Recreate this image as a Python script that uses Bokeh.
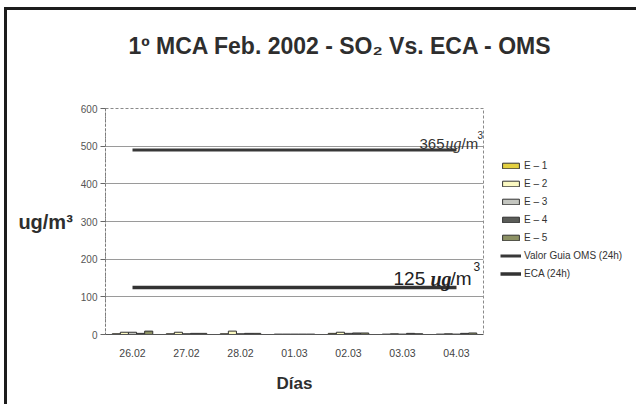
from bokeh.plotting import figure
from bokeh.models import (ColumnDataSource, FactorRange, Range1d, Label, Legend, LegendItem,
                          FixedTicker, Title)
from bokeh.transform import dodge
from bokeh.embed import file_html
from bokeh.resources import INLINE

# ---- data ----
days = ["26.02", "27.02", "28.02", "01.03", "02.03", "03.03", "04.03"]
e1 = [2, 2, 2, 1, 3, 1, 1]
e2 = [6, 6, 9, 1, 6, 2, 2]
e3 = [6, 2, 2, 1, 3, 1, 1]
e4 = [3, 3, 3, 1, 4, 3, 3]
e5 = [9, 3, 3, 1, 4, 2, 4]
oms_24h = [490, 490, 490, 490, 490, 490, 490]
eca_24h = [125, 125, 125, 125, 125, 125, 125]
series_names = ["E – 1", "E – 2", "E – 3", "E – 4", "E – 5"]
line_names = ["Valor Guia OMS (24h)", "ECA (24h)"]
y_ticks = [0, 100, 200, 300, 400, 500, 600]

SANS = "Liberation Sans"
SERIF = "Liberation Serif"
TXT = "#2e2e2e"

src = ColumnDataSource(dict(days=days, e1=e1, e2=e2, e3=e3, e4=e4, e5=e5,
                            oms=oms_24h, eca=eca_24h))

p = figure(x_range=FactorRange(*days), y_range=Range1d(0, 600),
           frame_width=378, frame_height=226, output_backend="svg", toolbar_location=None,
           title="1º MCA Feb. 2002 - SO₂ Vs. ECA - OMS",
           min_border_left=98, min_border_right=150,
           min_border_top=98, min_border_bottom=70)
p.border_fill_color = None
p.background_fill_color = "white"
p.outline_line_color = "#8a8a8a"
p.outline_line_dash = "3 2"
p.outline_line_width = 1
p.styles = {"border-left": "3px solid #1c1c1c", "border-top": "3px solid #1c1c1c",
            "margin-left": "4px", "margin-top": "7px",
            "background": "linear-gradient(90deg, #ffffff 0%, #ffffff 66%, #eef5ee 80%, #dcebdd 100%)"}

p.title.text_font = SANS
p.title.text_font_style = "bold"
p.title.text_font_size = "23px"
p.title.text_color = TXT
p.title.align = "left"
p.title.vertical_align = "bottom"
p.title.offset = 23
p.title.standoff = 40

# spacer between the title and the plot area
p.add_layout(Title(text=" ", text_font_size="10px", standoff=17), "above")

colors = ["#e3d040", "#fbf9c2", "#c4c6c0", "#5a5c58", "#8c9164"]
offsets = [-0.3, -0.15, 0.0, 0.15, 0.3]
keys = ["e1", "e2", "e3", "e4", "e5"]
bar_renderers = []
for k, c, o in zip(keys, colors, offsets):
    r = p.vbar(x=dodge("days", o, range=p.x_range), top=k, width=0.15, source=src,
               fill_color=c, line_color="#333333", line_width=1)
    bar_renderers.append(r)

r_oms = p.line(x="days", y="oms", source=src, line_color="#383838", line_width=3)
r_eca = p.line(x="days", y="eca", source=src, line_color="#333333", line_width=3.5)

# axes
p.yaxis.ticker = FixedTicker(ticks=y_ticks)
p.yaxis.major_label_text_font = SANS
p.yaxis.major_label_text_font_size = "10px"
p.yaxis.major_label_text_color = "#555555"
p.yaxis.major_tick_in = 0
p.yaxis.major_tick_out = 5
p.yaxis.major_tick_line_color = "#666666"
p.yaxis.minor_tick_line_color = None
p.yaxis.axis_line_color = "#777777"
p.yaxis.axis_line_dash = "2 2"
p.yaxis.major_label_standoff = 3
p.yaxis.axis_label = "ug/m³"
p.yaxis.axis_label_orientation = "horizontal"
p.yaxis.axis_label_text_font = SANS
p.yaxis.axis_label_text_font_style = "bold"
p.yaxis.axis_label_text_font_size = "20px"
p.yaxis.axis_label_text_color = TXT
p.yaxis.axis_label_standoff = 5

p.xaxis.major_label_text_font = SANS
p.xaxis.major_label_text_font_size = "10.5px"
p.xaxis.major_label_text_color = "#444444"
p.xaxis.major_tick_in = 0
p.xaxis.major_tick_out = 0
p.xaxis.major_label_standoff = 14
p.xaxis.axis_line_color = "#555555"
p.xaxis.axis_label = "Días"
p.xaxis.axis_label_text_font = SANS
p.xaxis.axis_label_text_font_style = "bold"
p.xaxis.axis_label_text_font_size = "17px"
p.xaxis.axis_label_text_color = TXT
p.xaxis.axis_label_standoff = 14

p.xgrid.grid_line_color = None
p.ygrid.grid_line_color = "#9a9a9a"
p.ygrid.grid_line_width = 1

# frame-relative screen-unit labels
def lab(text, x, y, size, font=SANS, style="normal", align="left", color=TXT):
    p.add_layout(Label(x=x, y=y, x_units="screen", y_units="screen", text=text,
                       text_font=font, text_font_size=size, text_font_style=style,
                       text_align=align, text_baseline="alphabetic", text_color=color))

# line annotations
lab("365", 314, 191, "15px", color="#333333")
lab("ug", 340, 191, "16px", font=SERIF, style="italic", color="#333333")
lab("/m", 356, 191, "15px", color="#333333")
lab("3", 372, 200, "10px", color="#333333")

lab("125", 288, 56, "19px", color="#222222")
lab("ug", 325, 56, "20px", font=SERIF, style="bold italic", color="#222222")
lab("/m", 345, 56, "19px", color="#222222")
lab("3", 368, 68, "12px", color="#222222")

# legend (right side panel)
items = [LegendItem(label=n, renderers=[r]) for n, r in zip(series_names, bar_renderers)]
items += [LegendItem(label=line_names[0], renderers=[r_oms]),
          LegendItem(label=line_names[1], renderers=[r_eca])]
legend = Legend(items=items, location=(17, 55), orientation="vertical",
                glyph_width=21, glyph_height=7, label_height=12, spacing=6,
                label_standoff=3, padding=0, margin=0,
                label_text_font=SANS, label_text_font_size="10px",
                label_text_color="#333333", border_line_color=None,
                background_fill_alpha=0)
p.add_layout(legend, "right")

open("out.html", "w").write(file_html(p, INLINE))
